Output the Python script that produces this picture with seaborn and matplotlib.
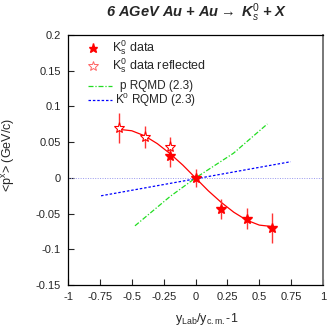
import numpy as np
import pandas as pd
import matplotlib
matplotlib.use("Agg")
import matplotlib.pyplot as plt
import seaborn as sns

# K0s data (measured)
data_x = [-0.2, 0.0, 0.2, 0.4, 0.6]
data_y = [0.031, 0.0, -0.043, -0.057, -0.070]
data_err = [0.016, 0.012, 0.014, 0.015, 0.021]

# reflected data
refl_x = [-0.6, -0.4, -0.2]
refl_y = [0.070, 0.057, 0.043]
refl_err = [0.021, 0.015, 0.014]

# fit curve
fit_x = [-0.6, -0.5, -0.4, -0.3, -0.2, -0.1, 0.0, 0.1, 0.2, 0.3, 0.4, 0.5, 0.6]
fit_y = [0.068, 0.066, 0.059, 0.048, 0.034, 0.018, 0.0, -0.018, -0.034, -0.048, -0.059, -0.066, -0.068]

# RQMD lines
p_x = [-0.475, -0.2, 0.0, 0.297, 0.563]
p_y = [-0.067, -0.026, 0.0, 0.0345, 0.0755]
k_x = [-0.741, 0.746]
k_y = [-0.025, 0.0227]

legend_labels = ['K$^{0}_{\\mathrm{s}}$ data', 'K$^{0}_{\\mathrm{s}}$ data reflected',
                 'p RQMD (2.3)', 'K$^{0}$ RQMD (2.3)']

sns.set_style("ticks")
plt.rcParams['font.family'] = ['Liberation Sans', 'DejaVu Sans']
plt.rcParams['mathtext.fontset'] = 'custom'
plt.rcParams['mathtext.rm'] = 'Liberation Sans'
plt.rcParams['mathtext.it'] = 'Liberation Sans:italic'
plt.rcParams['mathtext.bf'] = 'Liberation Sans:bold:italic'

fig = plt.figure(figsize=(3.27, 3.27), dpi=100)
ax = fig.add_axes([0.208, 0.128, 0.780, 0.765])

green_ls = (0, (4, 1.5, 1, 1.5))
blue_ls = (0, (2, 1.5))

ax.axhline(0, color='#9999ee', lw=0.7, ls=(0, (1, 1.5)))

sns.lineplot(x=k_x, y=k_y, ax=ax, color='blue', lw=0.9, ls=blue_ls, sort=False)
sns.lineplot(x=p_x, y=p_y, ax=ax, color='#22dd22', lw=0.9, ls=green_ls, sort=False)
sns.lineplot(x=fit_x, y=fit_y, ax=ax, color='red', lw=0.9, sort=False)

ax.errorbar(refl_x, refl_y, yerr=refl_err, fmt='none', ecolor='#ff3333', elinewidth=1.0)
ax.errorbar(data_x, data_y, yerr=data_err, fmt='none', ecolor='#ff3333', elinewidth=1.0)
ax.plot(refl_x, refl_y, ls='none', marker='*', ms=8, mfc='white', mec='red', mew=0.8)
ax.plot(data_x, data_y, ls='none', marker='*', ms=7.5, mfc='red', mec='red')

ax.set_xlim(-1, 1)
ax.set_ylim(-0.15, 0.2)
ax.set_xticks([-1, -0.75, -0.5, -0.25, 0, 0.25, 0.5, 0.75, 1])
ax.set_xticklabels(['-1', '-0.75', '-0.5', '-0.25', '0', '0.25', '0.5', '0.75', '1'])
ax.set_yticks([-0.15, -0.1, -0.05, 0, 0.05, 0.1, 0.15, 0.2])
ax.set_yticklabels(['-0.15', '-0.1', '-0.05', '0', '0.05', '0.1', '0.15', '0.2'])
ax.tick_params(direction='in', length=4, width=0.8, labelsize=8, pad=5)
for s in ax.spines.values():
    s.set_linewidth(0.9)
    s.set_color('black')
ax.spines['right'].set_color('#777777')
ax.spines['right'].set_linewidth(1.4)

ax.set_xlabel('y$_{\\mathrm{Lab}}$/y$_{\\mathrm{c.m.}}$-1', fontsize=9)
ax.xaxis.set_label_coords(0.545, -0.105)
ax.set_ylabel('<p$^{\\mathrm{x}}$> (GeV/c)', fontsize=9)
ax.yaxis.set_label_coords(-0.2, 0.52)
fig.text(0.60, 0.962, '6 AGeV Au + Au$\\rightarrow$ K$^{0}_{s}$ + X', ha='center', va='center',
         fontsize=10.5, fontweight='bold', fontstyle='italic')

# hand-placed legend (axes fraction)
tr = ax.transAxes
ax.plot([0.098], [0.948], transform=tr, ls='none', marker='*', ms=6.5, mfc='red', mec='red')
ax.plot([0.098], [0.876], transform=tr, ls='none', marker='*', ms=7, mfc='white', mec='#ff6666', mew=0.7)
ax.plot([0.078, 0.173], [0.796, 0.796], transform=tr, color='#22dd22', lw=0.9, ls=green_ls)
ax.plot([0.078, 0.173], [0.740, 0.740], transform=tr, color='blue', lw=0.9, ls=blue_ls)
ax.text(0.173, 0.948, legend_labels[0], transform=tr, fontsize=9, va='center')
ax.text(0.173, 0.876, legend_labels[1], transform=tr, fontsize=9, va='center')
ax.text(0.204, 0.796, legend_labels[2], transform=tr, fontsize=8.5, va='center')
ax.text(0.184, 0.740, legend_labels[3], transform=tr, fontsize=8.5, va='center')

fig.savefig('out.png', dpi=100)
